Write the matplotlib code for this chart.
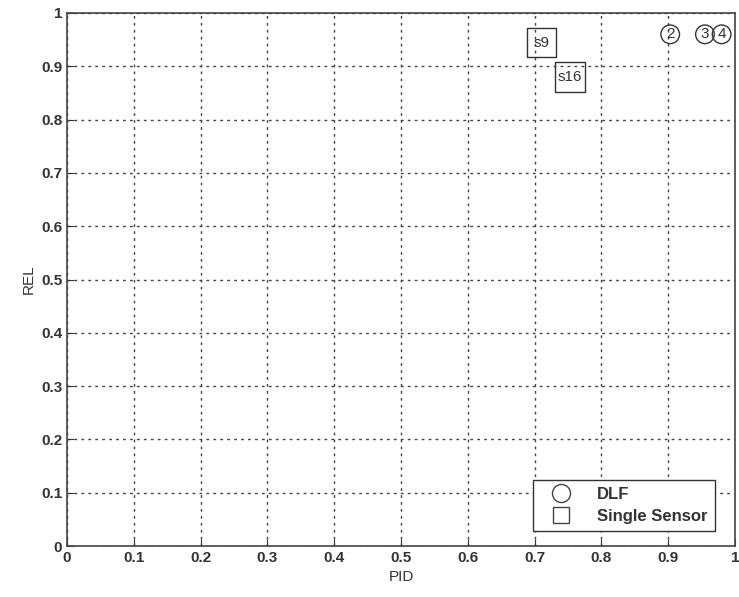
import matplotlib
matplotlib.use("Agg")
import matplotlib.pyplot as plt
from matplotlib.lines import Line2D

plt.rcParams['font.family'] = ['Liberation Sans', 'DejaVu Sans']

dlf_labels = ["2", "3", "4"]
dlf_pid = [0.903, 0.955, 0.980]
dlf_rel = [0.960, 0.960, 0.960]

ss_labels = ["s9", "s16"]
ss_pid = [0.710, 0.753]
ss_rel = [0.944, 0.880]

ticks = [0, 0.1, 0.2, 0.3, 0.4, 0.5, 0.6, 0.7, 0.8, 0.9, 1]
tick_labels = ["0", "0.1", "0.2", "0.3", "0.4", "0.5", "0.6", "0.7", "0.8", "0.9", "1"]

fig = plt.figure(figsize=(7.39, 5.97), dpi=100)
ax = fig.add_axes([67/739, 1-546/597, 668/739, 533/597])

ax.set_xlim(0, 1)
ax.set_ylim(0, 1)
ax.set_xticks(ticks)
ax.set_yticks(ticks)
ax.set_xticklabels(tick_labels, fontweight='bold', fontsize=11, color='#333333')
ax.set_yticklabels(tick_labels, fontweight='bold', fontsize=11, color='#333333')
ax.tick_params(direction='in', length=5, color='#333333')
ax.grid(True, linestyle=(0, (2, 3)), color='#444444', linewidth=1.0)
for s in ax.spines.values():
    s.set_color('#444444')
    s.set_linewidth(1.2)

ax.scatter(dlf_pid, dlf_rel, s=180, marker='o', facecolors='none', edgecolors='#333333', linewidths=1.0, zorder=3, clip_on=False)
for lab, x, y in zip(dlf_labels, dlf_pid, dlf_rel):
    ax.text(x, y, lab, ha='center', va='center', fontsize=11, color='#333333', zorder=4)

ax.scatter(ss_pid, ss_rel, s=440, marker='s', facecolors='none', edgecolors='#333333', linewidths=1.0, zorder=3)
for lab, x, y in zip(ss_labels, ss_pid, ss_rel):
    ax.text(x, y, lab, ha='center', va='center', fontsize=11, color='#333333', zorder=4)

ax.set_xlabel("PID", fontsize=11, color='#333333')
ax.set_ylabel("REL", fontsize=11, color='#333333')

handles = [
    Line2D([], [], marker='o', linestyle='none', markersize=13, markerfacecolor='none', markeredgecolor='#444444'),
    Line2D([], [], marker='s', linestyle='none', markersize=12, markerfacecolor='none', markeredgecolor='#444444'),
]
leg = ax.legend(handles, ["DLF", "Single Sensor"], loc='lower right', bbox_to_anchor=(0.978, 0.018),
                prop={'weight': 'bold', 'size': 12}, fancybox=False, edgecolor='#333333',
                framealpha=1, handletextpad=1.0, borderpad=0.45, labelspacing=0.4,
                borderaxespad=0.3, handlelength=2.4)
for t in leg.get_texts():
    t.set_color('#333333')

fig.savefig("out.png", dpi=100)
